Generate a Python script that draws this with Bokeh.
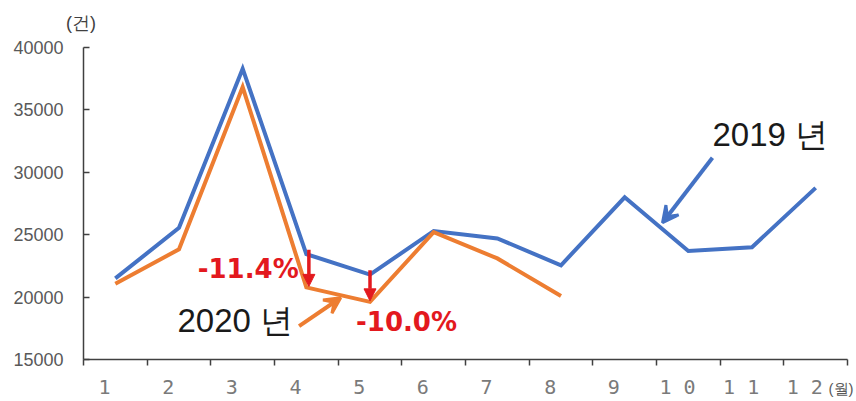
from bokeh.plotting import figure
from bokeh.models import FixedTicker, Label, Arrow, NormalHead, VeeHead, Range1d
from bokeh.embed import file_html
from bokeh.resources import INLINE

# Monthly case counts (건)
months = [1, 2, 3, 4, 5, 6, 7, 8, 9, 10, 11, 12]
month_labels = ["1", "2", "3", "4", "5", "6", "7", "8", "9", "1 0", "1 1", "1 2"]
cases_2019 = [21500, 25550, 38300, 23450, 21800, 25300, 24700, 22550, 28000, 23700, 24000, 28750]
months_2020 = [1, 2, 3, 4, 5, 6, 7, 8]
cases_2020 = [21070, 23830, 36830, 20780, 19620, 25200, 23100, 20090]
y_ticks = [15000, 20000, 25000, 30000, 35000, 40000]
change_labels = ["-11.4%", "-10.0%"]

BLUE = "#4472C4"
ORANGE = "#ED7D31"
RED = "#E3191E"
AXIS = "#404040"

p = figure(width=856, height=401,
           x_range=Range1d(0.5, 12.5), y_range=Range1d(15000, 40000),
           output_backend="svg", toolbar_location=None,
           min_border_left=83, min_border_right=9,
           min_border_top=47, min_border_bottom=42)
p.xgrid.visible = False
p.ygrid.visible = False
p.outline_line_color = None
p.background_fill_color = "white"
p.border_fill_color = "white"

# y axis: ticks pointing into the plot
p.yaxis.ticker = FixedTicker(ticks=y_ticks)
p.yaxis.axis_line_color = AXIS
p.yaxis.axis_line_width = 1.5
p.yaxis.major_tick_line_color = AXIS
p.yaxis.major_tick_line_width = 1.5
p.yaxis.major_tick_in = 6
p.yaxis.major_tick_out = 0
p.yaxis.minor_tick_line_color = None
p.yaxis.major_label_standoff = 20
p.yaxis.major_label_text_font = "Liberation Sans"
p.yaxis.major_label_text_font_size = "18px"
p.yaxis.major_label_text_color = "#595959"

# x axis: tick marks on category boundaries, labels near category centres
label_pos = [m - 0.17 for m in months]
p.xaxis.ticker = FixedTicker(ticks=label_pos, minor_ticks=[m - 0.5 for m in months] + [12.5])
p.xaxis.major_label_overrides = {pos: lab for pos, lab in zip(label_pos, month_labels)}
p.xaxis.axis_line_color = AXIS
p.xaxis.axis_line_width = 1.5
p.xaxis.major_tick_line_color = None
p.xaxis.major_tick_in = 0
p.xaxis.major_tick_out = 0
p.xaxis.minor_tick_line_color = AXIS
p.xaxis.minor_tick_line_width = 1.5
p.xaxis.minor_tick_in = 0
p.xaxis.minor_tick_out = 6
p.xaxis.major_label_standoff = 9
p.xaxis.major_label_text_font = "DejaVu Sans Mono"
p.xaxis.major_label_text_font_size = "20px"
p.xaxis.major_label_text_color = "#7a7a7a"

# axis units; kept in the top side panel so they may sit outside the data frame
p.add_layout(Label(x=0.46, y=41950, text="(건)", text_align="center", text_baseline="middle",
                   text_font="Liberation Sans", text_font_size="18px",
                   text_color=AXIS), "above")
p.add_layout(Label(x=12.5, y=12650, text="(월)", text_align="right", text_baseline="middle",
                   x_offset=6, text_font="Liberation Sans", text_font_size="15px",
                   text_color="#595959"), "above")

# series lines
p.line(months, cases_2019, line_color=BLUE, line_width=4, line_join="miter")
p.line(months_2020, cases_2020, line_color=ORANGE, line_width=4, line_join="miter")

# year-on-year drops in April and May
for m, lab, dx, ty, align in [(4, change_labels[0], -0.12, 22250, "right"),
                              (5, change_labels[1], -0.22, 18000, "left")]:
    i = m - 1
    ax = m + (0.04 if m == 4 else 0.0)
    p.add_layout(Arrow(x_start=ax, y_start=cases_2019[i] + 350, x_end=ax, y_end=cases_2020[i] + 80,
                       line_color=RED, line_width=3.5,
                       end=NormalHead(size=12, fill_color=RED, line_color=RED, line_width=1)))
    p.add_layout(Label(x=m + dx, y=ty, text=lab, text_align=align, text_baseline="middle",
                       text_font="DejaVu Sans", text_font_style="bold",
                       text_font_size="26px", text_color=RED))

# series call-outs
p.add_layout(Label(x=1.976, y=18150, text="2020 년", text_align="left", text_baseline="middle",
                   text_font="Liberation Sans", text_font_size="33px", text_color="#1a1a1a"))
p.add_layout(Arrow(x_start=3.886, y_start=17680, x_end=4.54, y_end=19950,
                   line_color=ORANGE, line_width=4,
                   end=VeeHead(size=16, fill_color=ORANGE, line_color=ORANGE, line_width=3)))

p.add_layout(Label(x=10.379, y=33060, text="2019 년", text_align="left", text_baseline="middle",
                   text_font="Liberation Sans", text_font_size="33px", text_color="#1a1a1a"))
p.add_layout(Arrow(x_start=10.379, y_start=31160, x_end=9.594, y_end=25960,
                   line_color=BLUE, line_width=4,
                   end=VeeHead(size=16, fill_color=BLUE, line_color=BLUE, line_width=3)))

open("out.html", "w").write(file_html(p, INLINE))
